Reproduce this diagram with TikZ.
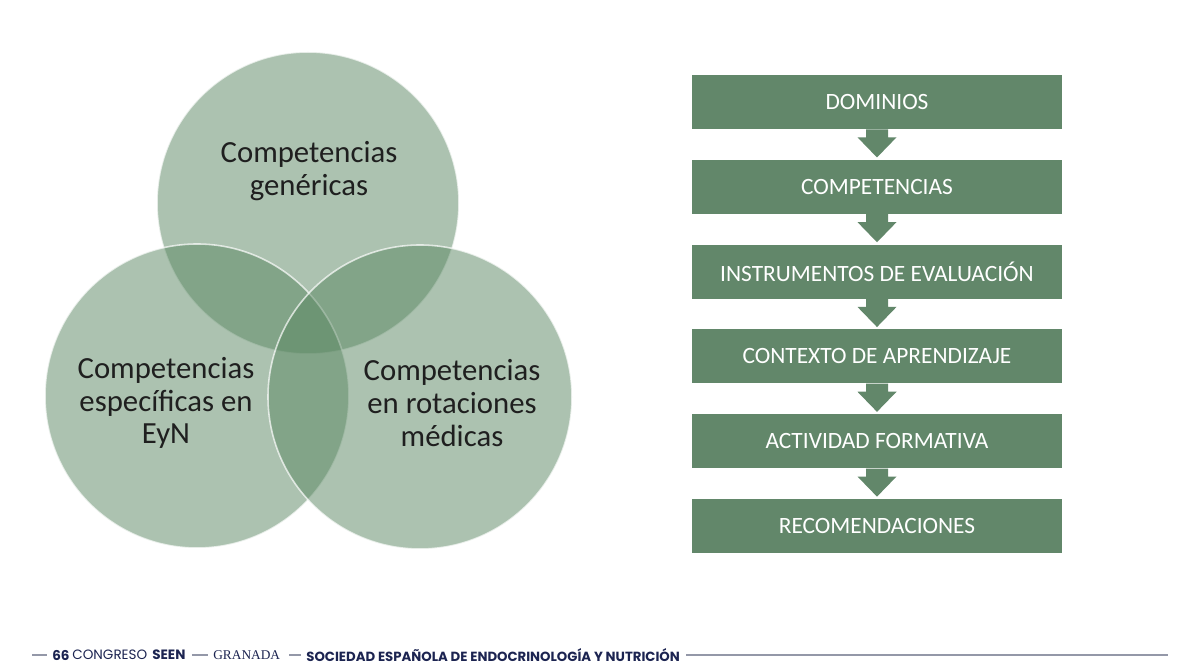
\documentclass[tikz,border=0pt]{standalone}
\usepackage{fontspec}
\setmainfont{Carlito}
\newfontfamily\footsans{Poppins}
\newfontfamily\footserif{Liberation Serif}
\usetikzlibrary{calc,positioning}

\definecolor{circgreen}{RGB}{90,135,98}
\definecolor{boxgreen}{RGB}{98,135,106}
\definecolor{footnavy}{RGB}{28,36,81}
\definecolor{footgray}{RGB}{148,152,168}

\begin{document}
\begin{tikzpicture}[x=0.02cm, y=-0.02cm,
  venn/.style={fill=circgreen, fill opacity=0.5, draw=white, draw opacity=0.7, line width=0.9pt},
  venntext/.style={align=center, text=black!88, font=\fontsize{17.5}{18.7}\selectfont},
  stagebox/.style={fill=boxgreen, minimum width=7.4cm, minimum height=1.08cm, inner sep=0pt,
    text=white, font=\fontsize{13.3}{15}\selectfont},
  foot/.style={anchor=west, inner sep=0pt, text=footnavy, font=\footsans\fontsize{7.7}{9}\selectfont},
  footline/.style={draw=footgray, line width=0.8pt}]
  \useasboundingbox (0,0) rectangle (1200,671);
  \fill[white] (0,0) rectangle (1200,671);

  % venn circles
  \draw[venn] (308,203) circle [radius=151];
  \draw[venn] (197,396) circle [radius=152];
  \draw[venn] (420,397) circle [radius=152];

  \node[venntext] (gen) at (309,171) {Competencias\\genéricas};
  \node[venntext] (esp) at (166,403) {Competencias\\específicas en\\EyN};
  \node[venntext] (rot) at (452,403) {Competencias\\en rotaciones\\médicas};

  % stages
  \foreach \i/\lbl in {0/DOMINIOS, 1/COMPETENCIAS, 2/INSTRUMENTOS DE EVALUACIÓN,
    3/CONTEXTO DE APRENDIZAJE, 4/ACTIVIDAD FORMATIVA, 5/RECOMENDACIONES}{
    \pgfmathsetmacro{\y}{102+\i*84.8}
    \node[stagebox] (b\i) at (877,\y) {\lbl};
  }
  \foreach \i/\j in {0/1, 1/2, 2/3, 3/4, 4/5}{
    \fill[boxgreen] ($(b\i.south)+(-11,0)$) -- ++(0,8) -- ++(-8.5,0)
      -- ($(b\j.north)+(0,-2)$) -- ($(b\i.south)+(19.5,8)$) -- ++(-8.5,0)
      -- ($(b\i.south)+(11,0)$) -- cycle;
  }

  % footer
  \node[foot, font=\footsans\bfseries\fontsize{7.7}{9}\selectfont] (n66) at (52,655) {66};
  \node[foot, right=1.2pt of n66] (congreso) {CONGRESO};
  \node[foot, font=\footsans\bfseries\fontsize{7.7}{9}\selectfont, right=2.5pt of congreso] (seen) {SEEN};
  \node[foot, font=\footserif\fontsize{7.6}{9}\selectfont] (granada) at (213,655) {GRANADA};
  \node[foot, font=\footsans\bfseries\fontsize{7.55}{9}\selectfont] (sociedad) at (306,655)
    {SOCIEDAD ESPAÑOLA DE ENDOCRINOLOGÍA Y NUTRICIÓN};
  \coordinate (fstart) at (32,655);
  \coordinate (fend) at (1168,655);
  \draw[footline] (fstart) -- ($(n66.west)+(-5,0)$);
  \draw[footline] ($(seen.east)+(6,0)$) -- ($(granada.west)+(-5,0)$);
  \draw[footline] ($(granada.east)+(9,0)$) -- ($(sociedad.west)+(-5,0)$);
  \draw[footline] ($(sociedad.east)+(6,0)$) -- (fend);
\end{tikzpicture}
\end{document}
